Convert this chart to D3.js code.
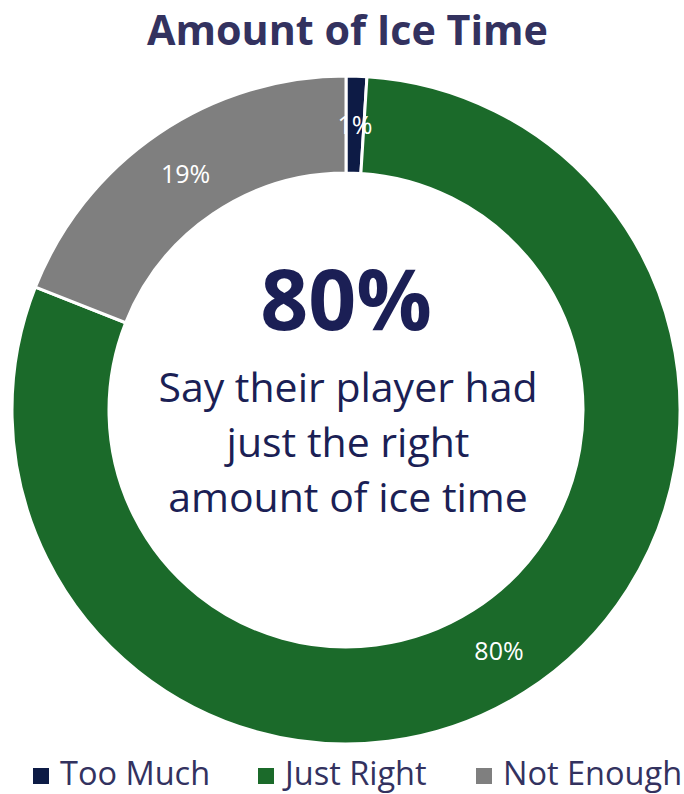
<!DOCTYPE html>
<html>
<head>
<meta charset="UTF-8">
<style>
    body { margin: 0; background: #fff; }
    svg text { font-family: "Open Sans", sans-serif; }
</style>
</head>
<body>
<script src="https://cdn.jsdelivr.net/npm/d3@7"></script>
<script>
    var categories = ["Too Much", "Just Right", "Not Enough"];
    var values = [1, 80, 19];
    var colors = ["#0d1b45", "#1b6a2a", "#7f7f7f"];
    var title = "Amount of Ice Time";
    var centerBig = "80%";
    var centerLines = ["Say their player had", "just the right", "amount of ice time"];

    var w = 684, h = 794;
    var cx = 346, cy = 410;
    var outerR = 334, innerR = 237;

    var svg = d3.select("body").append("svg")
        .attr("width", w)
        .attr("height", h);

    svg.append("text")
        .attr("x", 147)
        .attr("y", 45)
        .attr("font-size", 41)
        .attr("font-weight", "bold")
        .attr("fill", "#33325f")
        .attr("textLength", 401)
        .attr("lengthAdjust", "spacingAndGlyphs")
        .text(title);

    var data = categories.map((c, i) => ({ name: c, value: values[i], color: colors[i] }));
    var pie = d3.pie().sort(null).value(d => d.value);
    var arc = d3.arc().innerRadius(innerR).outerRadius(outerR);
    var arcs = pie(data);

    var g = svg.append("g").attr("transform", `translate(${cx},${cy})`);
    g.selectAll("path")
        .data(arcs)
        .enter()
        .append("path")
        .attr("d", arc)
        .attr("fill", d => d.data.color)
        .attr("stroke", "#fff")
        .attr("stroke-width", 3);

    g.selectAll("text.lbl")
        .data(arcs)
        .enter()
        .append("text")
        .attr("class", "lbl")
        .attr("transform", d => `translate(${arc.centroid(d)})`)
        .attr("text-anchor", "middle")
        .attr("dy", "0.36em")
        .attr("font-size", 25)
        .attr("fill", "#fff")
        .text(d => d.data.value + "%");

    g.append("text")
        .attr("y", -80)
        .attr("text-anchor", "middle")
        .attr("font-size", 84)
        .attr("font-weight", "bold")
        .attr("fill", "#1b1f55")
        .text(centerBig);

    g.selectAll("text.cl")
        .data(centerLines)
        .enter()
        .append("text")
        .attr("class", "cl")
        .attr("x", 2)
        .attr("y", (d, i) => -8 + i * 55)
        .attr("text-anchor", "middle")
        .attr("font-size", 41)
        .attr("fill", "#1b1f55")
        .text(d => d);

    var legendX = [33, 258, 476];
    var legend = svg.selectAll("g.leg")
        .data(data)
        .enter()
        .append("g")
        .attr("class", "leg")
        .attr("transform", (d, i) => `translate(${legendX[i]},768)`);
    legend.append("rect")
        .attr("width", 16)
        .attr("height", 16)
        .attr("fill", d => d.color);
    legend.append("text")
        .attr("x", 27)
        .attr("y", 17)
        .attr("font-size", 32.5)
        .attr("fill", "#33325f")
        .text(d => d.name);
</script>
</body>
</html>
